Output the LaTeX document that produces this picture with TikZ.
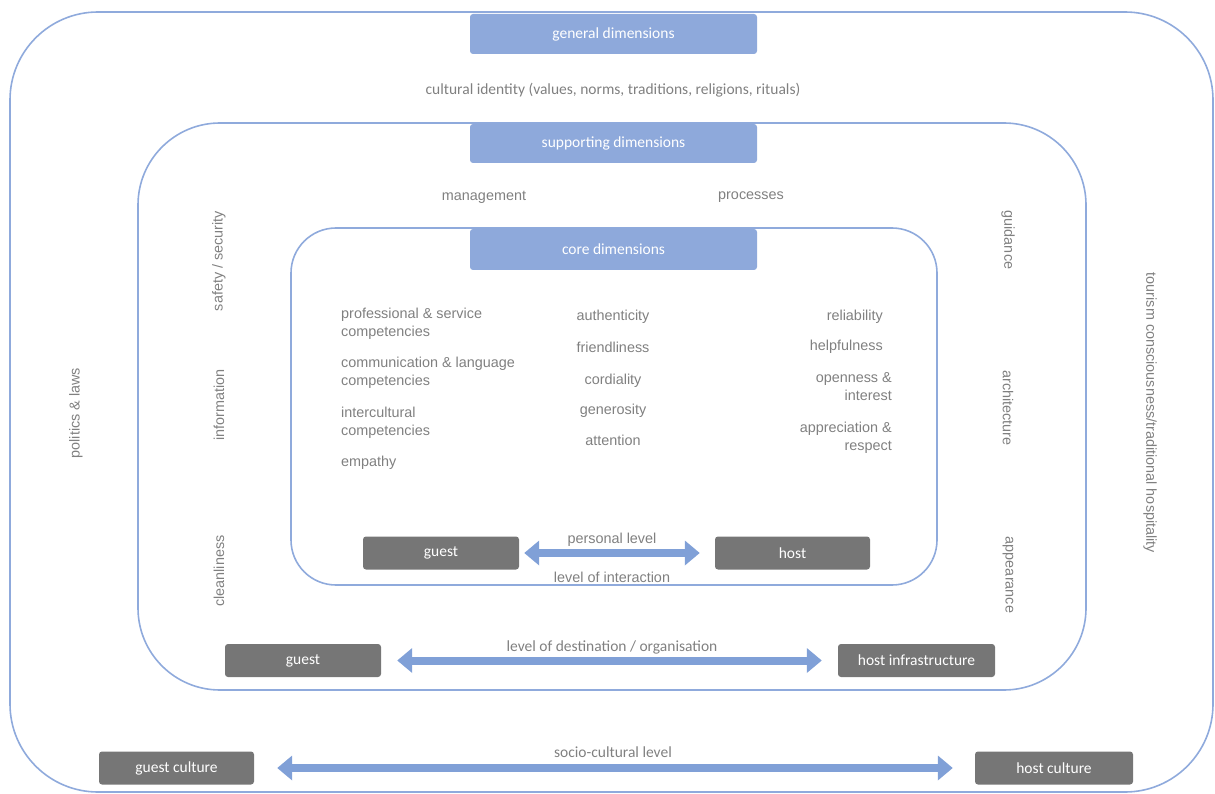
\documentclass[tikz,border=0pt]{standalone}
\usepackage{fontspec}
\setmainfont{Liberation Sans}
\newfontfamily\cond{Carlito}
\usetikzlibrary{arrows.meta}
\definecolor{frame}{RGB}{143,170,220}
\definecolor{head}{RGB}{142,169,219}
\definecolor{dark}{RGB}{118,118,118}
\definecolor{txt}{RGB}{128,128,128}
\definecolor{arr}{RGB}{128,160,215}
\begin{document}
\begin{tikzpicture}[x=1pt,y=-1pt,
  frm/.style={draw=frame,line width=1.6pt},
  hdr/.style={fill=head,rounded corners=3pt,minimum width=287pt,minimum height=40pt,text=white,font=\cond\fontsize{15.5}{18}\selectfont,inner sep=0pt},
  gbox/.style={fill=dark,rounded corners=3pt,minimum height=33pt,text=white,font=\cond\fontsize{15.5}{18}\selectfont,inner sep=0pt},
  lbl/.style={text=txt,font=\fontsize{14.4}{18}\selectfont,inner sep=0pt},
  clbl/.style={text=txt,font=\cond\fontsize{15.5}{18}\selectfont,inner sep=0pt},
  dbl/.style={draw=arr,line width=8pt,{Triangle[width=24pt,length=15pt]}-{Triangle[width=24pt,length=15pt]}}
]
\useasboundingbox (0,0) rectangle (1215,794);
% frames
\draw[frm, rounded corners=88pt] (10,12) rectangle (1213,792);
\draw[frm, rounded corners=82pt] (138,123) rectangle (1086,690);
\draw[frm, rounded corners=45pt] (291,228) rectangle (937,585);
% headers
\node[hdr] (gen) at (613.5,34) {general dimensions};
\node[hdr, minimum height=39pt] (sup) at (613.5,143.5) {supporting dimensions};
\node[hdr, minimum height=41pt] (core) at (613.5,249.5) {core dimensions};
% general level
\node[clbl] (ci) at (613,90) {cultural identity (values, norms, traditions, religions, rituals)};
\node[lbl, rotate=90] (pol) at (76,413) {politics \& laws};
\node[lbl, rotate=-90] (tour) at (1150,413) {tourism consciousness/traditional hospitality};
% supporting level
\node[lbl] (mgmt) at (484,197) {management};
\node[lbl] (proc) at (751,197) {processes};
\node[lbl, rotate=90] (safe) at (219,261) {safety / security};
\node[lbl, rotate=90] (info) at (219,405) {information};
\node[lbl, rotate=90] (clean) at (219,571) {cleanliness};
\node[lbl, rotate=-90] (guid) at (1008,240) {guidance};
\node[lbl, rotate=-90] (arch) at (1008,408) {architecture};
\node[lbl, rotate=-90] (appe) at (1008,575) {appearance};
% core left column
\node[lbl, anchor=north west, align=left] (c1) at (341,308) {professional \& service\\competencies};
\node[lbl, anchor=north west, align=left] (c2) at (341,357) {communication \& language\\competencies};
\node[lbl, anchor=north west, align=left] (c3) at (341,407) {intercultural\\competencies};
\node[lbl, anchor=north west] (c4) at (341,456) {empathy};
% core middle column
\node[lbl, anchor=base] (m1) at (613,320) {authenticity};
\node[lbl, anchor=base] (m2) at (613,352) {friendliness};
\node[lbl, anchor=base] (m3) at (613,384) {cordiality};
\node[lbl, anchor=base] (m4) at (613,414) {generosity};
\node[lbl, anchor=base] (m5) at (613,445) {attention};
% core right column
\node[lbl, anchor=base east] (r1) at (883,320) {reliability};
\node[lbl, anchor=base east] (r2) at (883,350) {helpfulness};
\node[lbl, anchor=north east, align=right] (r3) at (892,372) {openness \&\\interest};
\node[lbl, anchor=north east, align=right] (r4) at (892,422) {appreciation \&\\respect};
% personal level
\node[gbox, minimum width=156pt] (g1) at (441,553) {guest};
\node[gbox, minimum width=155pt] (h1) at (792.5,553) {host};
\draw[dbl, shorten <=5pt, shorten >=15pt] (g1.east) -- (h1.west);
\node[lbl] (pl) at (612,540) {personal level};
\node[lbl] (li) at (612,577) {level of interaction};
% destination level
\node[gbox, minimum width=156pt] (g2) at (303,660.5) {guest};
\node[gbox, minimum width=157pt] (h2) at (916.5,660.5) {host infrastructure};
\draw[dbl, shorten <=16pt, shorten >=16pt] (g2.east) -- (h2.west);
\node[clbl] (ld) at (612,647) {level of destination / organisation};
% socio-cultural level
\node[gbox, minimum width=155pt] (g3) at (176.5,768) {guest culture};
\node[gbox, minimum width=158pt] (h3) at (1054,768) {host culture};
\draw[dbl, shorten <=23pt, shorten >=22pt] (g3.east) -- (h3.west);
\node[clbl] (sc) at (613,752) {socio-cultural level};
\end{tikzpicture}
\end{document}
